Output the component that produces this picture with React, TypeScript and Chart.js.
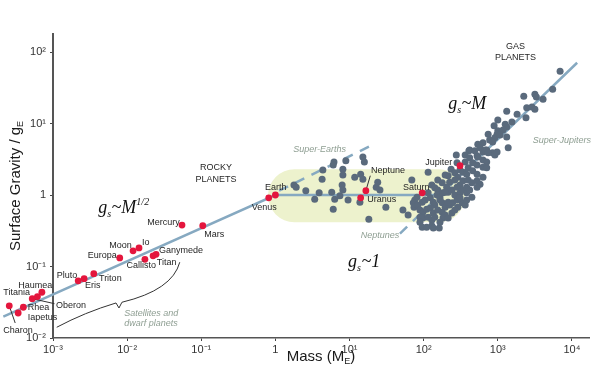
import React, { useEffect, useRef } from 'react';
import { Chart, registerables } from 'chart.js';
Chart.register(...registerables);

// Axis ticks (values are log10 of the quantity)
const xTickValues = [-3, -2, -1, 0, 1, 2, 3, 4];
const xTickLabels = ['10⁻³', '10⁻²', '10⁻¹', '1', '10¹', '10²', '10³', '10⁴'];
const yTickValues = [-2, -1, 0, 1, 2];
const yTickLabels = ['10⁻²', '10⁻¹', '1', '10¹', '10²'];

// Solar-system bodies: log10 mass (Earth masses), log10 surface gravity (g_E)
const solarNames = ['Earth', 'Charon', 'Iapetus', 'Rhea', 'Oberon', 'Titania', 'Haumea', 'Pluto', 'Eris', 'Triton', 'Europa', 'Moon', 'Io', 'Callisto', 'Titan', 'Ganymede', 'Mercury', 'Mars', 'Venus', 'Uranus', 'Neptune', 'Saturn', 'Jupiter'];
const solarLogMass = [0, -3.59, -3.47, -3.40, -3.28, -3.21, -3.15, -2.66, -2.58, -2.45, -2.10, -1.92, -1.84, -1.76, -1.65, -1.61, -1.26, -0.98, -0.09, 1.15, 1.22, 1.98, 2.49];
const solarLogGravity = [0, -1.55, -1.65, -1.57, -1.45, -1.42, -1.36, -1.20, -1.17, -1.10, -0.88, -0.78, -0.74, -0.90, -0.85, -0.83, -0.42, -0.43, -0.04, -0.04, 0.06, 0.03, 0.41];

// Exoplanets: log10 mass, log10 surface gravity
const exoLogMass = [
  0.25, 0.28, 0.41, 0.53, 0.59, 0.64, 0.63, 0.76, 0.78, 0.79, 0.78, 0.80, 0.87, 0.90, 0.91, 0.91, 0.91, 0.95, 0.98, 1.07, 1.15, 1.18, 1.18, 1.20, 1.14, 1.26, 1.36, 1.38, 1.41, 1.49,
  3.84, 3.74, 3.61, 3.50, 3.52, 3.35, 3.12, 3.26, 3.39, 3.46, 3.50, 3.38, 3.19, 3.10, 3.12, 3.00, 2.95, 3.00, 3.07, 2.87, 2.99, 2.96, 3.03, 3.12, 2.89, 2.93, 2.80, 2.73, 3.14, 2.62, 2.76, 2.80, 2.85, 2.93, 2.44, 2.72,
  2.61, 2.69, 2.83, 2.87, 2.96, 2.99, 2.56, 2.73, 2.80, 2.85, 2.62, 2.56, 2.45, 2.66, 2.72, 2.80, 2.85, 2.60, 2.49, 2.37, 2.53, 2.58, 2.42, 2.46, 2.66, 2.72, 2.80, 2.33, 2.29, 2.06, 1.84, 2.19, 2.25, 2.35, 2.42, 2.49, 2.53, 2.60, 2.65, 2.72, 2.76,
  2.19, 2.18, 2.22, 2.26, 2.33, 2.38, 2.42, 2.49, 2.53, 2.58, 2.62, 2.65, 2.58, 2.72, 2.31, 2.29, 2.45, 2.11, 2.15,
  1.91, 1.88, 1.98, 2.02, 2.09, 2.13, 2.15, 2.25, 2.29, 2.35, 2.39, 2.46, 2.52, 2.56, 2.58, 2.45, 2.49,
  1.86, 1.87, 1.72, 1.92, 1.95, 1.99, 2.04, 2.09, 2.13, 2.19, 2.25, 2.29, 2.38, 2.42,
  1.79, 1.95, 1.99, 2.06, 2.11, 2.15, 2.26, 2.33,
  1.95, 1.98, 2.11, 2.13, 2.21, 2.04, 2.22, 2.06, 2.22, 2.33,
];
const exoLogGravity = [
  0.14, 0.11, 0.06, -0.06, 0.03, 0.35, 0.22, 0.04, -0.20, 0.46, 0.42, -0.06, -0.01, 0.14, 0.07, 0.36, 0.28, 0.48, -0.07, 0.25, 0.29, 0.22, 0.53, 0.46, -0.10, -0.34, 0.11, 0.18, 0.07, -0.17,
  1.73, 1.48, 1.34, 1.41, 1.37, 1.38, 1.17, 1.13, 1.22, 1.23, 1.20, 1.08, 1.02, 0.99, 0.95, 1.05, 0.97, 0.90, 0.91, 0.85, 0.85, 0.80, 0.84, 0.81, 0.77, 0.74, 0.73, 0.71, 0.66, 0.63, 0.66, 0.60, 0.63, 0.59, 0.56, 0.55,
  0.62, 0.62, 0.63, 0.59, 0.56, 0.60, 0.56, 0.53, 0.49, 0.46, 0.52, 0.46, 0.45, 0.45, 0.42, 0.39, 0.38, 0.38, 0.35, 0.36, 0.32, 0.29, 0.31, 0.25, 0.34, 0.29, 0.25, 0.27, 0.28, 0.32, 0.21, 0.21, 0.17, 0.18, 0.21, 0.14, 0.20, 0.21, 0.17, 0.20, 0.15,
  0.07, 0.00, -0.04, 0.03, 0.04, 0.07, 0.00, 0.03, 0.07, 0.03, 0.07, -0.03, 0.11, 0.11, 0.11, 0.04, 0.11, 0.14, 0.10,
  -0.03, -0.07, -0.10, -0.07, -0.04, -0.10, -0.14, -0.11, -0.17, -0.14, -0.11, -0.17, -0.11, -0.14, -0.07, -0.07, -0.04,
  -0.11, -0.17, -0.21, -0.14, -0.21, -0.24, -0.20, -0.18, -0.25, -0.21, -0.24, -0.28, -0.25, -0.21,
  -0.28, -0.31, -0.32, -0.31, -0.35, -0.31, -0.32, -0.32,
  -0.38, -0.45, -0.43, -0.46, -0.46, -0.45, -0.38, 0.03, -0.07, -0.10,
];

// Scaling relations (log10 units)
const trendLogMass = [-3.67, 0, 2.22, 4.07];
const trendLogGravity = [-1.70, 0, 0, 1.85];
const superEarthLogMass = [0.05, 1.31];
const superEarthLogGravity = [0.06, 0.70];
const neptuneLogMass = [1.68, 2.22];
const neptuneLogGravity = [-0.54, 0];

// Shaded "Neptunes" band (log10 units): mass range, gravity range
const bandLogMass = [-0.10, 2.56];
const bandLogGravity = [0.36, -0.38];

// Leader lines [from, to]
const charonLeaderLogMass = [-3.59, -3.51];
const charonLeaderLogGravity = [-1.55, -1.79];
const oberonLeaderLogMass = [-3.28, -2.98];
const oberonLeaderLogGravity = [-1.45, -1.52];
const neptuneLeaderLogMass = [1.22, 1.28];
const neptuneLeaderLogGravity = [0.06, 0.27];

// Brace for satellites and dwarf planets
const braceLogMass = [-2.95, -2.57, -2.15, -2.11, -2.07, -1.39, -1.29];
const braceLogGravity = [-1.85, -1.64, -1.51, -1.58, -1.50, -1.33, -0.94];

// Labels
const planetLabelText = ['Haumea', 'Titania', 'Rhea', 'Iapetus', 'Charon', 'Oberon', 'Pluto', 'Eris', 'Triton', 'Europa', 'Moon', 'Io', 'Callisto', 'Ganymede', 'Titan', 'Mercury', 'Mars', 'Earth', 'Venus', 'Neptune', 'Uranus', 'Saturn', 'Jupiter'];
const planetLabelLogMass = [-3.47, -3.67, -3.34, -3.34, -3.67, -2.96, -2.95, -2.57, -2.38, -2.53, -2.24, -1.80, -2.01, -1.57, -1.60, -1.73, -0.96, -0.14, -0.32, 1.29, 1.24, 1.72, 2.02];
const planetLabelLogGravity = [-1.26, -1.36, -1.58, -1.72, -1.89, -1.55, -1.13, -1.27, -1.17, -0.85, -0.70, -0.67, -0.99, -0.78, -0.95, -0.38, -0.55, 0.10, -0.18, 0.34, -0.07, 0.11, 0.45];

const groupLabelText = ['ROCKY', 'PLANETS', 'GAS', 'PLANETS'];
const groupLabelLogMass = [-0.80, -0.80, 3.24, 3.24];
const groupLabelLogGravity = [0.38, 0.22, 2.07, 1.93];

const regionLabelText = ['Super-Earths', 'Neptunes', 'Super-Jupiters', 'Satellites and', 'dwarf planets'];
const regionLabelLogMass = [0.24, 1.15, 3.47, -2.04, -2.04];
const regionLabelLogGravity = [0.63, -0.56, 0.76, -1.66, -1.80];

// Formulas: parts [text, kind] kind 0 = normal, 1 = subscript, 2 = superscript
const formulaParts: [string, number][][] = [
  [['g', 0], ['s', 1], ['~M', 0], ['1/2', 2]],
  [['g', 0], ['s', 1], ['~M', 0]],
  [['g', 0], ['s', 1], ['~1', 0]],
];
const formulaLogMass = [-2.39, 2.33, 0.98];
const formulaLogGravity = [-0.25, 1.20, -1.01];

const RED = '#e4163d';
const SLATE = '#5a6a7c';
const LINE = '#86a9c1';
const BAND = '#edf2cd';
const REGION = '#8e9e92';
const TEXT = '#262626';
const SANS = '"Liberation Sans", Arial, sans-serif';
const SERIF = '"Liberation Serif", "Times New Roman", serif';

const pts = (xs: number[], ys: number[]) => xs.map((v, i) => ({ x: v, y: ys[i] }));

const overlay = {
  id: 'overlay',
  beforeDatasetsDraw(chart: any) {
    const { ctx, scales } = chart;
    const xs = scales.x, ys = scales.y;
    const l = xs.getPixelForValue(bandLogMass[0]);
    const r = xs.getPixelForValue(bandLogMass[1]);
    const t = ys.getPixelForValue(bandLogGravity[0]);
    const b = ys.getPixelForValue(bandLogGravity[1]);
    const rad = (b - t) / 2;
    ctx.save();
    ctx.fillStyle = BAND;
    ctx.beginPath();
    ctx.moveTo(l + rad, t);
    ctx.lineTo(r - rad, t);
    ctx.arc(r - rad, t + rad, rad, -Math.PI / 2, Math.PI / 2);
    ctx.lineTo(l + rad, b);
    ctx.arc(l + rad, t + rad, rad, Math.PI / 2, Math.PI * 1.5);
    ctx.closePath();
    ctx.fill();
    ctx.restore();
    const ca = chart.chartArea;
    chart.$savedArea = { left: ca.left, top: ca.top, right: ca.right, bottom: ca.bottom };
    ca.left = 0; ca.top = 0; ca.right = chart.width; ca.bottom = chart.height;
  },
  afterDatasetsDraw(chart: any) {
    const ca = chart.chartArea;
    const s = chart.$savedArea;
    if (s) { ca.left = s.left; ca.top = s.top; ca.right = s.right; ca.bottom = s.bottom; }
    const { ctx, scales } = chart;
    const xs = scales.x, ys = scales.y;
    const px = (v: number) => xs.getPixelForValue(v);
    const py = (v: number) => ys.getPixelForValue(v);
    ctx.save();
    // brace
    ctx.strokeStyle = '#333';
    ctx.lineWidth = 1;
    ctx.beginPath();
    ctx.moveTo(px(braceLogMass[0]), py(braceLogGravity[0]));
    ctx.quadraticCurveTo(px(braceLogMass[1]), py(braceLogGravity[1]), px(braceLogMass[2]), py(braceLogGravity[2]));
    ctx.lineTo(px(braceLogMass[3]), py(braceLogGravity[3]));
    ctx.lineTo(px(braceLogMass[4]), py(braceLogGravity[4]));
    ctx.quadraticCurveTo(px(braceLogMass[5]), py(braceLogGravity[5]), px(braceLogMass[6]), py(braceLogGravity[6]));
    ctx.stroke();

    ctx.textBaseline = 'middle';
    ctx.fillStyle = TEXT;
    ctx.font = `9px ${SANS}`;
    ctx.textAlign = 'left';
    planetLabelText.forEach((t, i) => ctx.fillText(t, px(planetLabelLogMass[i]), py(planetLabelLogGravity[i])));
    ctx.textAlign = 'center';
    groupLabelText.forEach((t, i) => ctx.fillText(t, px(groupLabelLogMass[i]), py(groupLabelLogGravity[i])));
    ctx.textAlign = 'left';
    ctx.fillStyle = REGION;
    ctx.font = `italic 9px ${SANS}`;
    regionLabelText.forEach((t, i) => ctx.fillText(t, px(regionLabelLogMass[i]), py(regionLabelLogGravity[i])));

    // formulas
    ctx.fillStyle = '#111';
    ctx.textBaseline = 'alphabetic';
    formulaParts.forEach((parts, i) => {
      let x = px(formulaLogMass[i]);
      const y = py(formulaLogGravity[i]);
      parts.forEach(([t, kind]) => {
        const size = kind === 0 ? 18 : 10;
        const dy = kind === 1 ? 4 : kind === 2 ? -8 : 0;
        ctx.font = `italic ${size}px ${SERIF}`;
        ctx.fillText(t, x, y + dy);
        x += ctx.measureText(t).width + (kind === 1 ? 0.5 : 0);
      });
    });

    // axis titles
    ctx.fillStyle = '#1a1a1a';
    const drawSub = (main: string, sub: string, tail: string, x: number, y: number) => {
      ctx.font = `15px ${SANS}`;
      const w1 = ctx.measureText(main).width;
      const w3 = ctx.measureText(tail).width;
      ctx.font = `9px ${SANS}`;
      const w2 = ctx.measureText(sub).width;
      let cx = x - (w1 + w2 + w3) / 2;
      ctx.font = `15px ${SANS}`;
      ctx.fillText(main, cx, y);
      cx += w1;
      ctx.font = `9px ${SANS}`;
      ctx.fillText(sub, cx, y + 3);
      cx += w2;
      ctx.font = `15px ${SANS}`;
      if (tail) ctx.fillText(tail, cx, y);
    };
    const area = chart.chartArea;
    ctx.textAlign = 'left';
    drawSub('Mass (M', 'E', ')', (area.left + area.right) / 2, 361);
    ctx.save();
    ctx.translate(19.5, (area.top + area.bottom) / 2);
    ctx.rotate(-Math.PI / 2);
    drawSub('Surface Gravity / g', 'E', '', 0, 0);
    ctx.restore();
    ctx.restore();
  },
};

export default function App() {
  const ref = useRef<HTMLCanvasElement>(null);
  useEffect(() => {
    document.body.style.margin = '0';
    const lineDs = (label: string, xs: number[], ys: number[], color: string, width: number, dash: number[] = []) => ({
      label, data: pts(xs, ys), showLine: true, borderColor: color, borderWidth: width, borderDash: dash,
      pointRadius: 0, clip: false as any, fill: false,
    });
    const chart = new Chart(ref.current as HTMLCanvasElement, {
      type: 'scatter',
      data: {
        datasets: [
          { label: 'Solar system', data: pts(solarLogMass, solarLogGravity), backgroundColor: RED, borderWidth: 0, pointRadius: 3.4, clip: false as any },
          { label: 'Exoplanets', data: pts(exoLogMass, exoLogGravity), backgroundColor: SLATE, borderWidth: 0, pointRadius: 3.5, clip: false as any },
          lineDs('Charon', charonLeaderLogMass, charonLeaderLogGravity, '#333', 1),
          lineDs('Oberon', oberonLeaderLogMass, oberonLeaderLogGravity, '#333', 1),
          lineDs('Neptune', neptuneLeaderLogMass, neptuneLeaderLogGravity, '#333', 1),
          lineDs('Trend', trendLogMass, trendLogGravity, LINE, 2.5),
          lineDs('Super-Earth trend', superEarthLogMass, superEarthLogGravity, LINE, 2.5, [10, 8]),
          lineDs('Neptune trend', neptuneLogMass, neptuneLogGravity, LINE, 2.5, [10, 8]),
        ] as any,
      },
      options: {
        animation: false,
        responsive: false,
        maintainAspectRatio: false,
        events: [],
        layout: { padding: { top: 34, right: 11, bottom: 0, left: 0 } },
        plugins: { legend: { display: false }, tooltip: { enabled: false } },
        scales: {
          x: {
            type: 'linear', min: -3, max: 4.23,
            afterBuildTicks: (s: any) => { s.ticks = xTickValues.map((v) => ({ value: v })); },
            afterFit: (s: any) => { s.height = 43; },
            ticks: {
              autoSkip: false, maxRotation: 0, padding: 2, color: '#333',
              font: { size: 11, family: SANS },
              callback: (v: any) => xTickLabels[xTickValues.indexOf(Number(v))] ?? '',
            },
            grid: { display: true, drawOnChartArea: false, drawTicks: true, tickLength: 3, color: '#444' },
            border: { display: true, color: '#555', width: 1.5 },
          },
          y: {
            type: 'linear', min: -2, max: 2.252,
            afterBuildTicks: (s: any) => { s.ticks = yTickValues.map((v) => ({ value: v })); },
            afterFit: (s: any) => { s.width = 53; },
            ticks: {
              autoSkip: false, padding: 4, color: '#333',
              font: { size: 11, family: SANS },
              callback: (v: any) => yTickLabels[yTickValues.indexOf(Number(v))] ?? '',
            },
            grid: { display: true, drawOnChartArea: false, drawTicks: true, tickLength: 3, color: '#444' },
            border: { display: true, color: '#555', width: 2 },
          },
        },
      },
      plugins: [overlay],
    } as any);
    return () => chart.destroy();
  }, []);
  return (
    <div style={{ width: 600, height: 381, position: 'relative' }}>
      <canvas ref={ref} width={600} height={381} style={{ display: 'block', width: 600, height: 381 }} />
    </div>
  );
}
